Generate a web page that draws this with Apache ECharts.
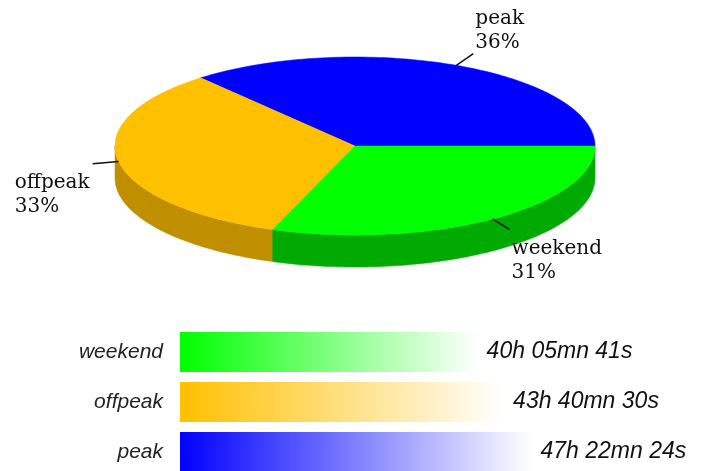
<!DOCTYPE html>
<html style="height: 100%">
<head>
    <meta charset="utf-8">
</head>
<body style="height: 100%; margin: 0; background: #fff">
<div id="container" style="width: 701px; height: 471px"></div>

<script type="text/javascript" src="https://fastly.jsdelivr.net/npm/echarts@6/dist/echarts.min.js"></script>
<script type="text/javascript">
    // data: categories (pie order, bottom-to-top for the bars) and durations in seconds
    var categories = ['peak', 'offpeak', 'weekend'];
    var durationSeconds = [170544, 157230, 144341];

    // styles
    var topColors = ['#0000ff', '#ffc000', '#00ff00'];
    var sideColors = ['#0000a0', '#bf8f00', '#00aa00'];
    var pieFont = '20px "DejaVu Serif", serif';

    var total = durationSeconds.reduce(function (a, b) { return a + b; }, 0);

    // pie geometry (ellipse on screen)
    var CX = 355, CY = 146, RX = 240, RY = 89, DEPTH = 32;

    var measureCtx = document.createElement('canvas').getContext('2d');
    function textWidth(str) {
        measureCtx.font = pieFont;
        return Math.max.apply(null, str.split('\n').map(function (l) {
            return measureCtx.measureText(l).width;
        }));
    }

    function pad(n) {
        return (n < 10 ? '0' : '') + n;
    }
    function fmtDuration(s) {
        var h = Math.floor(s / 3600);
        var m = Math.floor((s % 3600) / 60);
        var sec = s % 60;
        return h + 'h ' + pad(m) + 'mn ' + pad(sec) + 's';
    }

    function pt(t, d) {
        return [CX + RX * Math.cos(t), CY - RY * Math.sin(t) + (d || 0)];
    }
    function arc(t0, t1, d) {
        var pts = [];
        var n = Math.max(2, Math.ceil((t1 - t0) / 0.02));
        for (var k = 0; k <= n; k++) {
            pts.push(pt(t0 + (t1 - t0) * k / n, d));
        }
        return pts;
    }

    // 3D pie slice drawn from the value
    function renderPie(params, api) {
        var i = params.dataIndex;
        var before = 0;
        for (var j = 0; j < i; j++) before += durationSeconds[j];
        var a0 = before / total * Math.PI * 2;
        var a1 = (before + api.value(0)) / total * Math.PI * 2;
        var children = [];

        // visible front wall
        var s0 = Math.max(a0, Math.PI), s1 = Math.min(a1, Math.PI * 2);
        if (s1 > s0) {
            var side = arc(s0, s1, 0).concat(arc(s0, s1, DEPTH).reverse());
            children.push({
                type: 'polygon',
                shape: {points: side},
                style: {fill: sideColors[i], stroke: sideColors[i], lineWidth: 0.5}
            });
        }
        // top face
        children.push({
            type: 'polygon',
            shape: {points: [[CX, CY]].concat(arc(a0, a1, 0))},
            style: {fill: topColors[i], stroke: topColors[i], lineWidth: 0.5}
        });

        // label with leader line
        var mid = (a0 + a1) / 2;
        var c = Math.cos(mid), s = Math.sin(mid);
        var p = pt(mid, 0);
        var end = [p[0] + (c >= 0 ? 17 : -26), p[1] - 13 * s];
        children.push({
            type: 'polyline',
            shape: {points: [p, end]},
            style: {stroke: '#111', lineWidth: 1.5, fill: null},
            z2: 20
        });
        var pct = Math.round(api.value(0) / total * 100);
        var txt = categories[i] + '\n' + pct + '%';
        children.push({
            type: 'text',
            x: c >= 0 ? end[0] + 2 : end[0] - 3 - textWidth(txt),
            y: s > 0 ? end[1] + 1 : end[1] + 7,
            style: {
                text: txt,
                font: pieFont,
                lineHeight: 24,
                fill: '#111',
                align: 'left',
                verticalAlign: s > 0 ? 'bottom' : 'top'
            },
            z2: 30
        });
        return {type: 'group', children: children};
    }

    var dom = document.getElementById('container');
    var myChart = echarts.init(dom, null, {renderer: 'canvas'});

    var option = {
        backgroundColor: '#fff',
        animation: false,
        grid: {
            left: 180,
            right: 110,
            top: 327,
            height: 150,
            outerBoundsMode: 'none'
        },
        xAxis: {
            type: 'value',
            min: 0,
            max: 200000,
            show: false
        },
        yAxis: {
            type: 'category',
            data: categories,
            axisLine: {show: false},
            axisTick: {show: false},
            axisLabel: {
                margin: 17,
                fontStyle: 'italic',
                fontSize: 21,
                fontFamily: '"Liberation Sans", Arial, sans-serif',
                color: '#222'
            }
        },
        series: [
            {
                type: 'bar',
                barWidth: 40,
                data: durationSeconds.map(function (v, i) {
                    return {
                        value: v,
                        itemStyle: {
                            color: new echarts.graphic.LinearGradient(0, 0, 1, 0, [
                                {offset: 0, color: topColors[i]},
                                {offset: 1, color: '#ffffff'}
                            ])
                        }
                    };
                }),
                label: {
                    show: true,
                    position: 'right',
                    distance: 10,
                    formatter: function (p) {
                        return fmtDuration(p.value);
                    },
                    fontStyle: 'italic',
                    fontSize: 23,
                    fontFamily: '"Liberation Sans", Arial, sans-serif',
                    color: '#111'
                }
            },
            {
                type: 'custom',
                coordinateSystem: 'none',
                renderItem: renderPie,
                data: durationSeconds
            }
        ]
    };

    myChart.setOption(option);
    window.addEventListener('resize', myChart.resize);
</script>
</body>
</html>
